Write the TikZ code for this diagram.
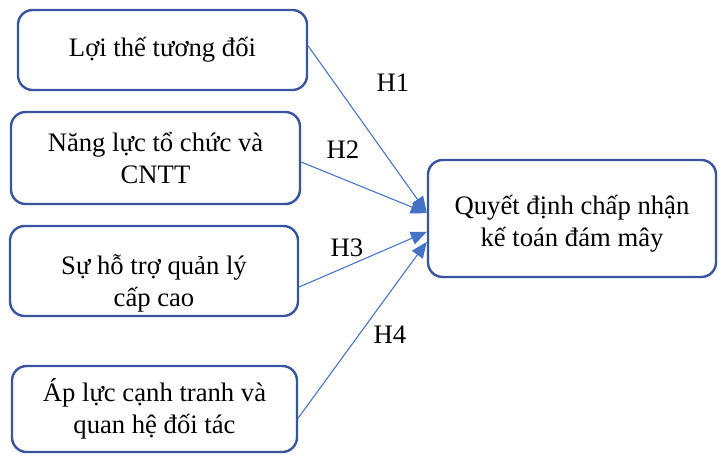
\documentclass[tikz,border=0pt]{standalone}
\usepackage{fontspec}
\setmainfont{Liberation Serif}
\usetikzlibrary{arrows.meta}

\definecolor{boxblue}{RGB}{56,84,160}
\definecolor{linkblue}{RGB}{68,114,196}

\begin{document}
\begin{tikzpicture}[x=0.75pt,y=-0.75pt,
    font=\fontsize{20}{24}\selectfont,
    factor/.style={draw=boxblue, line width=1.8pt, rounded corners=11pt,
                   align=center, inner sep=0pt},
    hypo/.style={draw=linkblue, line width=0.8pt,
                 -{Triangle[length=12pt,width=10pt]}}]
      \useasboundingbox (0,0) rectangle (719,457);
      % factors on the left
      \node (a) [factor, minimum width=216.75pt, minimum height=60pt]
            at (162.5,50) {Lợi thế tương đối};
      \node (b) [factor, minimum width=216.75pt, minimum height=69pt]
            at (155.5,158) {Năng lực tổ chức và\\CNTT};
      \node (c) [factor, minimum width=216pt, minimum height=67.5pt,
            label={[align=center, yshift=-9.5pt]center:Sự hỗ trợ quản lý\\cấp cao}]
            at (154,271) {};
      \node (d) [factor, minimum width=213.75pt, minimum height=64.5pt]
            at (154.5,409) {Áp lực cạnh tranh và\\quan hệ đối tác};
      % outcome
      \node (e) [factor, minimum width=216pt, minimum height=87.75pt,
            label={[align=center, yshift=-4pt]center:Quyết định chấp nhận\\kế toán đám mây}]
            at (572,218.5) {};
      % hypotheses
      \draw[hypo] ([yshift=3pt]a.east) -- ([yshift=4.5pt]e.west);
      \draw[hypo] ([yshift=-3pt]b.east) -- ([yshift=4pt]e.west);
      \draw[hypo] ([yshift=-12pt]c.east) -- ([yshift=-10pt]e.west);
      \draw[hypo] ([yshift=-6.75pt]d.east) -- ([yshift=-17.5pt]e.west);
      \node (h1) at (393,83) {H1};
      \node (h2) at (343,150) {H2};
      \node (h3) at (347,248) {H3};
      \node (h4) at (390,335) {H4};
\end{tikzpicture}
\end{document}
